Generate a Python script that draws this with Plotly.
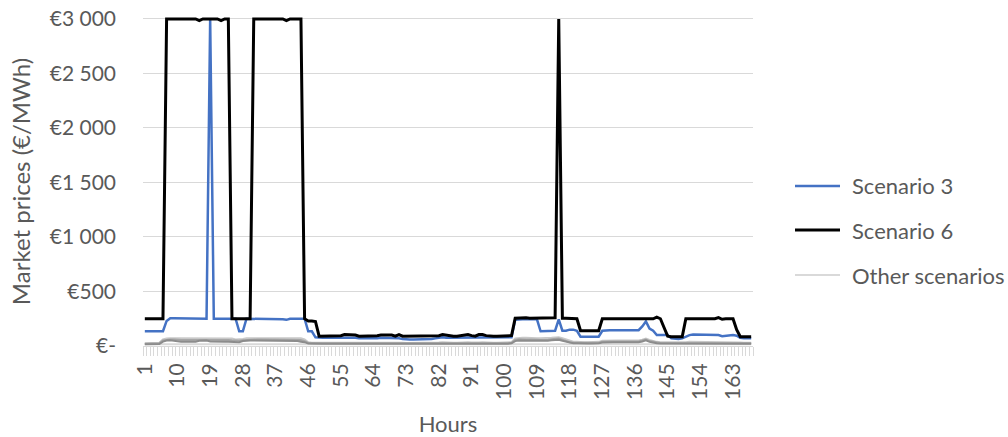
import plotly.graph_objects as go

hours = list(range(1, 169))

# Scenario 6 (black), €/MWh, hours 1..168
scenario_6 = [
    250, 250, 250, 250, 250, 250, 3000, 3000, 3000, 3000, 3000, 3000,
    3000, 3000, 3000, 2985, 3000, 3000, 3000, 3000, 3000, 2985, 3000, 3000,
    250, 250, 250, 250, 250, 250, 3000, 3000, 3000, 3000, 3000, 3000,
    3000, 3000, 3000, 2985, 3000, 3000, 3000, 3000, 250, 230, 230, 225,
    90, 90, 90, 90, 90, 90, 95, 105, 105, 100, 100, 90,
    90, 90, 90, 90, 95, 100, 100, 105, 100, 90, 105, 90,
    90, 90, 90, 90, 90, 90, 90, 90, 90, 95, 105, 100,
    90, 90, 90, 95, 105, 105, 95, 90, 105, 105, 95, 90,
    90, 90, 90, 90, 90, 95, 255, 258, 258, 258, 255, 255,
    255, 255, 255, 255, 255, 258, 3000, 255, 255, 255, 255, 250,
    140, 140, 140, 140, 140, 140, 250, 250, 250, 250, 250, 250,
    250, 250, 250, 250, 250, 250, 250, 250, 250, 265, 250, 170,
    90, 85, 85, 85, 85, 250, 250, 250, 250, 250, 250, 250,
    250, 250, 260, 245, 250, 250, 250, 150, 85, 85, 85, 85,
]

# Scenario 3 (blue)
scenario_3 = [
    135, 135, 135, 135, 135, 135, 230, 255, 255, 255, 255, 255,
    255, 255, 255, 250, 250, 250, 3000, 250, 250, 250, 250, 250,
    250, 250, 135, 135, 250, 250, 250, 250, 250, 250, 250, 250,
    250, 250, 245, 240, 250, 250, 250, 250, 250, 135, 135, 80,
    75, 75, 75, 75, 75, 75, 75, 80, 80, 75, 75, 70,
    70, 65, 65, 65, 70, 75, 75, 75, 75, 70, 70, 65,
    60, 60, 60, 60, 65, 65, 65, 65, 70, 75, 80, 75,
    75, 75, 75, 75, 75, 80, 80, 75, 75, 80, 80, 75,
    75, 75, 75, 75, 75, 80, 240, 245, 245, 245, 245, 245,
    245, 135, 135, 135, 135, 140, 245, 140, 140, 150, 150, 140,
    85, 85, 85, 85, 85, 85, 140, 145, 145, 145, 145, 145,
    145, 140, 140, 140, 145, 180, 225, 160, 140, 100, 100, 100,
    100, 70, 65, 65, 70, 85, 100, 105, 105, 105, 105, 105,
    105, 105, 100, 90, 95, 95, 100, 95, 75, 70, 70, 70,
]

# Other scenarios (grey)
other_1 = [
    15, 15, 15, 15, 15, 18, 20, 20, 20, 20, 20, 20,
    20, 20, 20, 20, 20, 20, 20, 20, 20, 20, 20, 20,
    20, 20, 20, 20, 20, 20, 20, 20, 20, 20, 20, 20,
    20, 20, 20, 20, 20, 20, 20, 20, 18, 15, 15, 15,
    15, 15, 15, 15, 15, 15, 15, 15, 15, 15, 15, 15,
    15, 15, 15, 15, 15, 15, 15, 15, 15, 15, 15, 15,
    15, 15, 15, 15, 15, 15, 15, 15, 15, 15, 15, 15,
    15, 15, 15, 15, 15, 15, 15, 15, 15, 15, 15, 15,
    15, 15, 15, 15, 15, 15, 18, 20, 20, 20, 20, 20,
    20, 20, 20, 20, 20, 20, 20, 18, 15, 15, 15, 15,
    15, 15, 15, 15, 15, 15, 15, 15, 15, 15, 15, 15,
    15, 15, 15, 15, 15, 15, 18, 15, 15, 15, 15, 15,
    15, 15, 15, 15, 15, 15, 15, 15, 15, 15, 15, 15,
    15, 15, 15, 15, 15, 15, 15, 15, 15, 15, 15, 15,
]

other_2 = [
    25, 25, 25, 25, 30, 60, 70, 72, 72, 70, 70, 70,
    70, 70, 70, 72, 72, 70, 70, 70, 70, 70, 70, 70,
    68, 60, 60, 65, 70, 72, 72, 72, 72, 72, 72, 72,
    72, 72, 72, 72, 72, 72, 72, 70, 60, 35, 30, 30,
    30, 30, 30, 30, 30, 30, 32, 35, 35, 32, 30, 30,
    30, 30, 30, 30, 32, 35, 35, 35, 32, 30, 30, 30,
    28, 28, 28, 28, 30, 30, 30, 30, 30, 32, 35, 32,
    30, 30, 30, 32, 35, 35, 32, 30, 32, 35, 32, 30,
    30, 30, 30, 30, 30, 35, 70, 75, 75, 75, 72, 72,
    72, 70, 70, 72, 75, 78, 80, 72, 60, 45, 40, 40,
    35, 35, 35, 35, 35, 38, 48, 50, 50, 50, 50, 50,
    50, 48, 48, 48, 50, 58, 68, 55, 45, 38, 35, 35,
    35, 32, 30, 30, 32, 35, 38, 38, 38, 38, 38, 38,
    38, 38, 36, 35, 35, 35, 36, 35, 32, 30, 30, 30,
]

other_3 = [
    20, 20, 20, 20, 25, 50, 58, 60, 60, 55, 55, 55,
    55, 55, 55, 58, 60, 60, 55, 55, 55, 55, 55, 55,
    52, 48, 48, 52, 55, 58, 60, 60, 60, 60, 60, 60,
    60, 60, 60, 60, 60, 60, 58, 55, 45, 28, 25, 25,
    25, 25, 25, 25, 25, 25, 25, 28, 28, 25, 25, 25,
    25, 25, 25, 25, 25, 28, 28, 28, 25, 25, 25, 25,
    22, 22, 22, 22, 25, 25, 25, 25, 25, 25, 28, 25,
    25, 25, 25, 25, 28, 28, 25, 25, 25, 28, 25, 25,
    25, 25, 25, 25, 25, 30, 55, 62, 62, 60, 58, 58,
    58, 55, 55, 58, 62, 65, 68, 58, 45, 35, 32, 32,
    28, 28, 28, 28, 28, 30, 38, 42, 42, 42, 42, 42,
    42, 40, 40, 40, 42, 50, 60, 45, 38, 30, 28, 28,
    28, 26, 25, 25, 26, 28, 30, 30, 30, 30, 30, 30,
    30, 30, 30, 28, 28, 28, 30, 28, 26, 25, 25, 25,
]

other_4 = [
    15, 15, 15, 15, 18, 40, 50, 52, 48, 40, 40, 40,
    40, 40, 40, 48, 52, 50, 42, 40, 40, 40, 40, 40,
    38, 35, 35, 45, 50, 50, 50, 50, 50, 50, 50, 50,
    50, 50, 50, 50, 50, 50, 45, 40, 35, 22, 20, 20,
    20, 20, 20, 20, 20, 20, 20, 22, 22, 20, 20, 20,
    20, 20, 20, 20, 20, 22, 22, 22, 20, 20, 20, 20,
    18, 18, 18, 18, 20, 20, 20, 20, 20, 20, 22, 20,
    20, 20, 20, 20, 22, 22, 20, 20, 20, 22, 20, 20,
    20, 20, 20, 20, 20, 25, 45, 50, 50, 48, 45, 45,
    45, 45, 45, 48, 52, 55, 58, 48, 38, 28, 25, 25,
    22, 22, 22, 22, 22, 25, 32, 35, 35, 35, 35, 35,
    35, 33, 33, 33, 35, 42, 52, 38, 30, 25, 22, 22,
    22, 20, 20, 20, 20, 22, 25, 25, 25, 25, 25, 25,
    25, 25, 25, 22, 22, 22, 25, 22, 20, 20, 20, 20,
]

others = [other_1, other_2, other_3, other_4]
other_colors = ["#d9d9d9", "#c8c8c8", "#a6a6a6", "#8c8c8c"]

series_names = ["Scenario 3", "Scenario 6", "Other scenarios"]
series_colors = ["#4472C4", "#000000", "#d9d9d9"]

x_tick_vals = list(range(1, 169, 9))
x_tick_text = [str(v) for v in x_tick_vals]
y_tick_vals = [0, 500, 1000, 1500, 2000, 2500, 3000]
y_tick_text = ["€-", "€500", "€1 000", "€1 500", "€2 000", "€2 500", "€3 000"]

FONT = "Lato"
TXT = "#595959"

W, H = 1008, 437
L, T = 143, 17
PW, PH = 610, 329

fig = go.Figure()

for vals, col in zip(others, other_colors):
    fig.add_trace(go.Scatter(
        x=hours, y=vals, mode="lines",
        line=dict(color=col, width=2),
        name="Other scenarios", showlegend=False,
    ))

fig.add_trace(go.Scatter(
    x=hours, y=scenario_3, mode="lines",
    line=dict(color=series_colors[0], width=2.5),
    name=series_names[0], showlegend=False,
))
fig.add_trace(go.Scatter(
    x=hours, y=scenario_6, mode="lines",
    line=dict(color=series_colors[1], width=3),
    name=series_names[1], showlegend=False,
))

# legend drawn as line samples + labels on the right
legend_rows_px = [186, 230, 275]
legend_widths = [2.5, 3, 2]
for name, col, py, lw in zip(series_names, series_colors, legend_rows_px, legend_widths):
    yp = (T + PH - py) / PH
    fig.add_shape(type="line", xref="paper", yref="paper",
                  x0=(795 - L) / PW, x1=(840 - L) / PW, y0=yp, y1=yp,
                  line=dict(color=col, width=lw))
    fig.add_annotation(xref="paper", yref="paper",
                       x=(850 - L) / PW, y=yp, xanchor="left", yanchor="middle",
                       text=name, showarrow=False,
                       font=dict(family=FONT, size=22, color=TXT))

fig.update_layout(
    width=W, height=H,
    margin=dict(l=L, r=W - L - PW, t=T, b=H - T - PH, autoexpand=False),
    paper_bgcolor="white", plot_bgcolor="white",
    font=dict(family=FONT, size=21, color=TXT),
    showlegend=False,
    hovermode=False,
    xaxis=dict(
        range=[0.5, 168.5],
        tickmode="array", tickvals=x_tick_vals, ticktext=x_tick_text,
        tickangle=-90, ticks="", ticklabelstandoff=8,
        ticklabeloverflow="allow",
        showgrid=False, zeroline=False,
        showline=True, linecolor="#d9d9d9", linewidth=1,
        minor=dict(ticks="outside", tick0=0.5, dtick=1, ticklen=9,
                   tickcolor="#d9d9d9", tickwidth=1, showgrid=False),
        title=dict(text="Hours", standoff=18,
                   font=dict(family=FONT, size=22, color=TXT)),
    ),
    yaxis=dict(
        range=[0, 3018],
        tickmode="array", tickvals=y_tick_vals, ticktext=y_tick_text,
        showgrid=True, gridcolor="#d9d9d9", gridwidth=1,
        zeroline=False, showline=False, ticks="",
        ticklabelstandoff=26, ticklabeloverflow="allow",
        title=dict(text="Market prices (€/MWh)", standoff=12,
                   font=dict(family=FONT, size=24, color=TXT)),
    ),
)

fig.write_html("out.html", config={"displayModeBar": False},
               post_script="document.body.style.margin='0px';")
